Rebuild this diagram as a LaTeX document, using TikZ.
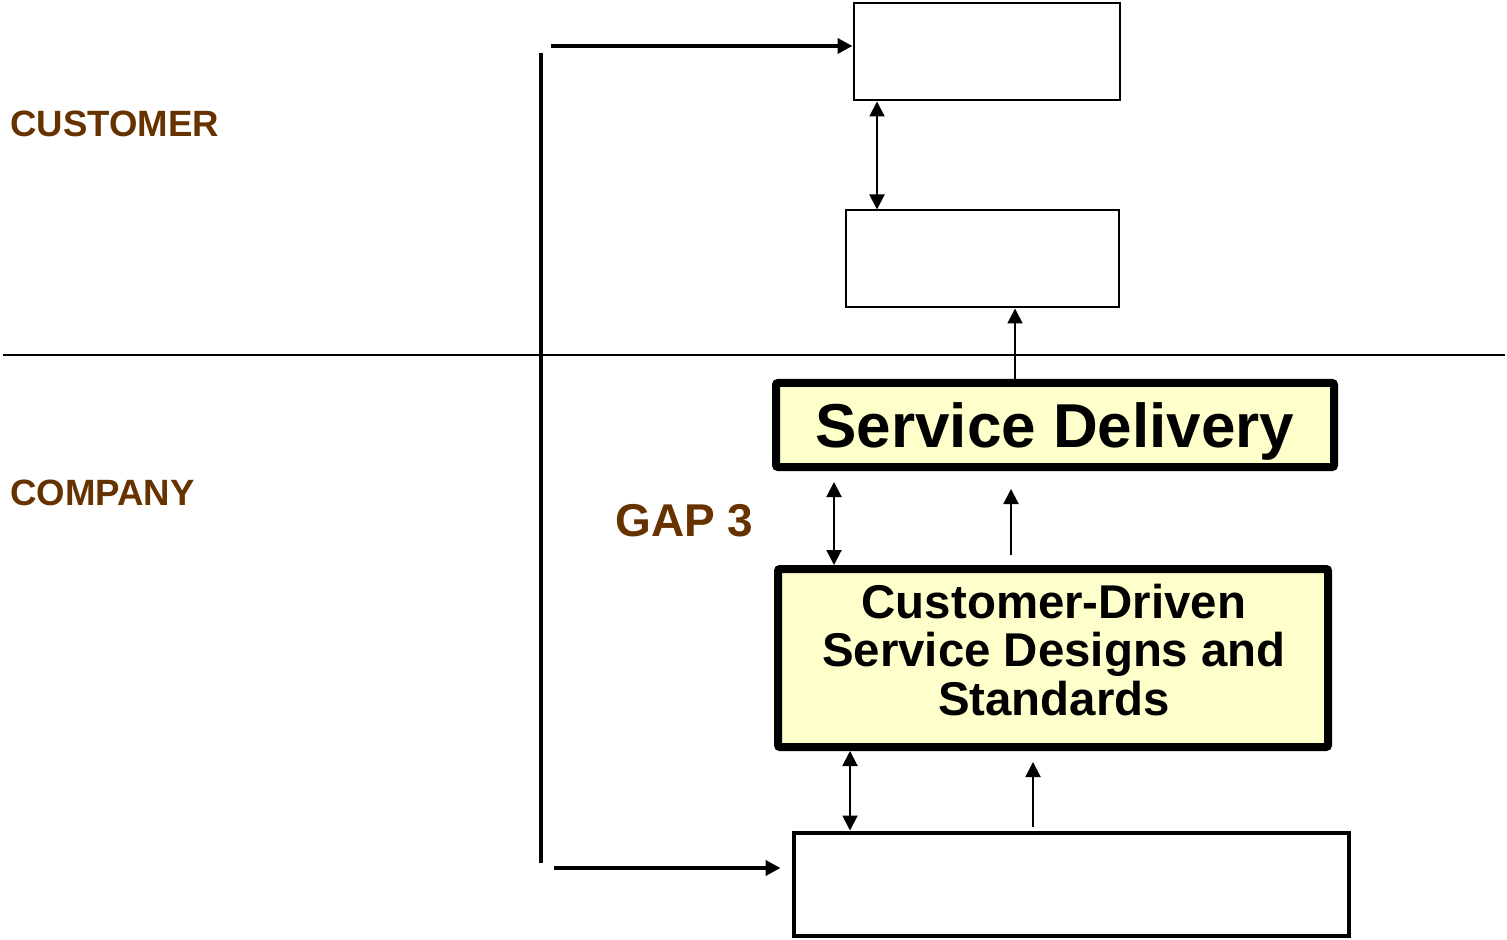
\documentclass[tikz,border=0pt]{standalone}
\usepackage{fontspec}
\setmainfont{Liberation Sans}
\usetikzlibrary{arrows.meta}
\definecolor{brownlab}{HTML}{663300}
\definecolor{paleyellow}{HTML}{FFFFCC}
\begin{document}
\begin{tikzpicture}[x=0.5pt,y=-0.5pt,
  thinbox/.style={draw=black, line width=1pt, inner sep=0pt, fill=white},
  thickbox/.style={draw=black, line width=4pt, inner sep=0pt, fill=paleyellow, rounded corners=1pt},
  boxtext/.style={inner sep=0pt, align=center},
  sidelabel/.style={text=brownlab, font=\bfseries\fontsize{18.3}{20}\selectfont, inner sep=0pt, anchor=base west},
  thinarrow/.style={line width=1pt, -{Triangle[length=7.5pt,width=7.5pt]}},
  thindouble/.style={line width=1pt, {Triangle[length=7.5pt,width=7.5pt]}-{Triangle[length=7.5pt,width=7.5pt]}},
  thickarrow/.style={line width=2pt, -{Triangle[length=7.5pt,width=7.5pt]}}
]
\useasboundingbox (0,0) rectangle (1507,940);

% boxes
\node[thinbox, minimum width=133pt, minimum height=48.5pt] (top) at (986.5,52) {};
\node[thinbox, minimum width=136.5pt, minimum height=48.5pt] (mid) at (982,259) {};
\node[thickbox, minimum width=279pt, minimum height=42pt] (sd) at (1055,425) {};
\node[boxtext, font=\bfseries\fontsize{31}{34}\selectfont] (sdtext) at (1055,431) {Service Delivery};
\node[thickbox, minimum width=275pt, minimum height=89pt] (cd) at (1053,658) {};
\node[boxtext, font=\bfseries\fontsize{23.7}{24.4}\selectfont] (cdtext) at (1054,650) {Customer-Driven\\Service Designs and\\Standards};
\node[thinbox, line width=2pt, minimum width=277.5pt, minimum height=51.5pt] (bot) at (1071,884) {};

% separator
\coordinate (hl) at (3,355);
\coordinate (hr) at (1505,355);
\draw[line width=1pt] (hl) -- (hr);

% labels
\node[sidelabel] (cust) at (10,137) {CUSTOMER};
\node[sidelabel] (comp) at (10,505) {COMPANY};
\node[text=brownlab, font=\bfseries\fontsize{23}{26}\selectfont, inner sep=0pt, anchor=base west] (gap) at (615,536) {GAP 3};

% left bracket
\coordinate (vt) at (541,53);
\coordinate (vb) at (541,863);
\draw[line width=2pt] (vt) -- (vb);
\coordinate (ta) at (551,46);
\draw[thickarrow] (ta) -- (ta -| top.west);
\coordinate (ba) at (554,868);
\draw[thickarrow, shorten >=5.5pt] (ba) -- (ba -| bot.west);

% vertical connectors
\coordinate (x1) at (877,0);
\draw[thindouble] (mid.north -| x1) -- (top.south -| x1);
\coordinate (x2) at (1015,0);
\draw[thinarrow] (sd.north -| x2) -- (mid.south -| x2);
\coordinate (x3) at (834,0);
\draw[thindouble, shorten >=5.5pt] (cd.north -| x3) -- (sd.south -| x3);
\coordinate (x4) at (1011,0);
\draw[thinarrow, shorten <=5pt, shorten >=9pt] (cd.north -| x4) -- (sd.south -| x4);
\coordinate (x5) at (850,0);
\draw[thindouble] (bot.north -| x5) -- (cd.south -| x5);
\coordinate (x6) at (1033,0);
\draw[thinarrow, shorten <=2pt, shorten >=5.5pt] (bot.north -| x6) -- (cd.south -| x6);
\end{tikzpicture}
\end{document}
